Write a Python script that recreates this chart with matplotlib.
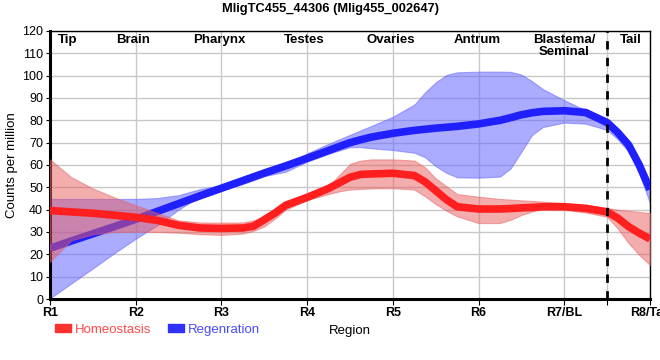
import matplotlib
matplotlib.use("Agg")
import matplotlib.pyplot as plt
from matplotlib.patches import Patch

plt.rcParams['font.family'] = ['Liberation Sans', 'DejaVu Sans']

# ---- data ----
x_pos = [1, 1.25, 1.5, 1.75, 2, 2.25, 2.5, 2.75, 3, 3.25, 3.375, 3.5, 3.625, 3.75, 4, 4.25,
         4.375, 4.5, 4.625, 4.75, 5, 5.25, 5.375, 5.5, 5.625, 5.75, 6, 6.25, 6.375, 6.5,
         6.625, 6.75, 7, 7.25, 7.5, 7.625, 7.75, 7.875, 8]

homeo_mean = [39.6, 39.0, 38.4, 37.5, 36.6, 35.2, 33.0, 31.8, 31.6, 31.8, 32.6, 35.5, 38.5, 42.0,
              45.5, 49.5, 52.0, 54.5, 55.8, 56.0, 56.3, 55.3, 52.5, 48.5, 44.5, 41.3, 40.3, 40.3,
              40.5, 40.8, 41.0, 41.3, 41.3, 40.6, 39.0, 36.2, 32.4, 29.5, 26.9]
homeo_upper = [62.5, 54.5, 49.5, 45.5, 42.0, 38.5, 35.2, 34.3, 34.2, 34.3, 35.2, 36.8, 39.8, 43.0,
               46.8, 50.5, 55.5, 60.5, 62.0, 62.5, 62.5, 62.0, 59.0, 54.0, 50.5, 47.0, 45.8, 44.8,
               44.5, 44.2, 43.9, 43.6, 43.0, 42.0, 40.7, 40.0, 39.5, 39.0, 38.5]
homeo_lower = [16.7, 26.3, 29.0, 30.0, 30.1, 30.0, 29.7, 29.0, 28.7, 29.3, 30.5, 32.5, 36.0, 40.0,
               44.3, 47.0, 48.2, 49.0, 49.3, 49.5, 49.6, 49.0, 46.0, 42.5, 39.5, 37.0, 34.0, 34.0,
               35.5, 37.6, 39.2, 40.4, 40.0, 38.7, 36.8, 31.5, 25.0, 19.7, 15.2]

regen_mean = [22.7, 26.0, 29.2, 32.4, 35.7, 39.2, 42.7, 46.2, 49.6, 53.0, 54.7, 56.4, 58.0, 59.6,
              63.0, 66.5, 68.3, 70.0, 71.3, 72.5, 74.2, 75.5, 76.0, 76.5, 76.9, 77.3, 78.4, 80.0,
              81.2, 82.5, 83.4, 84.0, 84.3, 83.5, 79.0, 74.5, 69.0, 60.0, 49.0]
regen_upper = [44.8, 44.8, 44.8, 44.8, 44.8, 45.2, 46.5, 49.2, 51.0, 54.5, 56.0, 57.5, 59.0, 60.5,
               65.2, 69.5, 71.5, 73.5, 75.5, 77.5, 81.6, 87.0, 92.5, 97.0, 100.3, 101.5, 101.8, 101.8,
               101.7, 100.5, 97.5, 94.0, 89.0, 84.5, 80.0, 76.0, 71.0, 61.5, 49.0]
regen_lower = [0.3, 7.0, 13.7, 20.5, 27.0, 33.0, 40.0, 46.0, 48.5, 51.5, 53.2, 55.0, 56.0, 57.0,
               61.5, 65.0, 66.5, 68.0, 68.0, 67.5, 66.7, 65.5, 63.5, 59.5, 56.5, 54.5, 54.3, 54.8,
               58.5, 66.0, 73.5, 77.0, 79.0, 78.5, 75.7, 71.5, 66.0, 56.0, 43.0]

tick_labels = ["R1", "R2", "R3", "R4", "R5", "R6", "R7/BL", "R8/Tail"]
tick_pos = [1, 2, 3, 4, 5, 6, 7, 8]
region_names = ["Tip", "Brain", "Pharynx", "Testes", "Ovaries", "Antrum", "Blastema/\nSeminal", "Tail"]
region_x = [1.2, 1.97, 2.98, 3.96, 4.98, 5.98, 7.0, 7.78]
boundary_x = 7.5
title = "MligTC455_44306 (Mlig455_002647)"

# ---- figure ----
fig = plt.figure(figsize=(6.6, 3.6), dpi=100)
ax = fig.add_axes([50/660, 61/360, 600/660, 268/360])

red = "#ff1f1f"
blue = "#2020ff"

ax.fill_between(x_pos, regen_lower, regen_upper, color="#6666ff", alpha=0.55,
                linewidth=0.8, edgecolor="#6666ff", zorder=2)
ax.plot(x_pos, regen_mean, color=blue, lw=5.5, solid_capstyle='butt',
        solid_joinstyle='round', zorder=3)
ax.fill_between(x_pos, homeo_lower, homeo_upper, color="#e85c5c", alpha=0.5,
                linewidth=0.8, edgecolor="#e86060", zorder=4)
ax.plot(x_pos, homeo_mean, color=red, lw=5.5, solid_capstyle='butt',
        solid_joinstyle='round', zorder=5)

ax.axvline(boundary_x, color="black", ls=(0, (3, 3)), lw=2, zorder=6)

ax.set_xlim(1, 8)
ax.set_ylim(0, 120)
ax.set_yticks(range(0, 121, 10))
ax.set_xticks(tick_pos + [boundary_x])
ax.set_xticklabels(tick_labels + [""], fontweight='bold', fontsize=9)
ax.tick_params(axis='y', labelsize=9, length=3, pad=2)
ax.tick_params(axis='x', length=4, pad=2)
ax.grid(True, color="#c8c8c8", lw=1, zorder=0)
ax.set_axisbelow(True)

for s in ['top', 'right']:
    ax.spines[s].set_linewidth(1)
for s in ['left', 'bottom']:
    ax.spines[s].set_linewidth(2.2)

for name, xx in zip(region_names, region_x):
    ax.text(xx, 118.5, name, ha='center', va='top', fontsize=9.5, fontweight='bold',
            linespacing=1.0, zorder=7)

ax.set_ylabel("Counts per million", fontsize=9.5, labelpad=3)
fig.text(350/660, 1 - 331/360, "Region", ha='center', va='center', fontsize=9.5)
fig.suptitle(title, x=330/660, y=1 - 9/360, va='center', fontsize=9.3, fontweight='bold')

handles = [Patch(color="#ff3030"), Patch(color="#3030ff")]
leg = fig.legend(handles, ["Homeostasis", "Regenration"], loc='center left',
                 bbox_to_anchor=(55/660, 1 - 330/360), ncol=2, frameon=False,
                 fontsize=9.5, handlelength=1.2, handleheight=0.55, handletextpad=0.3,
                 columnspacing=1.3, borderaxespad=0, borderpad=0)
for t, c in zip(leg.get_texts(), ["#ff4a4a", "#4a4aff"]):
    t.set_color(c)

fig.savefig("out.png", dpi=100)
